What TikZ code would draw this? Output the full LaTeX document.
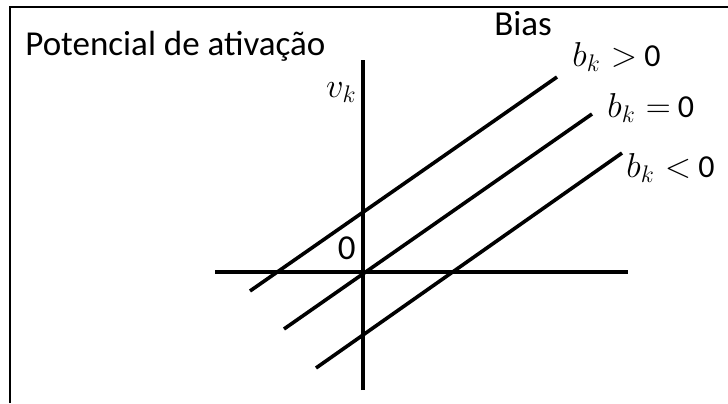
\documentclass[tikz,border=0pt]{standalone}
\usepackage{fontspec}
\setmainfont{Carlito}
\begin{document}
\begin{tikzpicture}[x=0.5pt,y=-0.5pt,font=\fontsize{17.5}{21}\selectfont,
  eixo/.style={line width=2pt},
  reta/.style={line width=1.8pt},
  rotulo/.style={font=\fontsize{16}{19}\selectfont,anchor=base west,inner sep=0pt}]
\useasboundingbox (0,0) rectangle (728,403);
\draw[line width=1pt] (10,403) -- (10,7) -- (728,7);
% eixos
\coordinate (O) at (363,272);
\coordinate (ybaixo) at (363,390);
\coordinate (ytopo) at (363,60);
\coordinate (xesq) at (215,272);
\coordinate (xdir) at (628,272);
\draw[eixo] (ybaixo) -- (ytopo);
\draw[eixo] (xesq) -- (xdir);
% retas para cada bias
\coordinate (pos1) at (250,291);
\coordinate (pos2) at (557,77);
\coordinate (nul1) at (284,329);
\coordinate (nul2) at (592,114);
\coordinate (neg1) at (316,368);
\coordinate (neg2) at (622,153);
\draw[reta] (pos1) -- (pos2);
\draw[reta] (nul1) -- (nul2);
\draw[reta] (neg1) -- (neg2);
% textos
\node[anchor=base west,inner sep=0pt] (titulo) at (25,55) {Potencial de ativação};
\node[anchor=base west,inner sep=0pt] (bias) at (494,35) {Bias};
\node[anchor=base east,inner sep=0pt,font=\fontsize{17.28}{21}\selectfont] (vk) at (357,97) {$v_k$};
\node[anchor=base east,inner sep=0pt] (zero) at (356,259) {0};
\node[rotulo] (bpos) at (572,66) {{\fontsize{17.28}{21}\selectfont$b_k$}\hspace{5pt}$>$ 0};
\node[rotulo] (bnul) at (607,117) {{\fontsize{17.28}{21}\selectfont$b_k$}\hspace{5pt}$=$ 0};
\node[rotulo] (bneg) at (626,177) {{\fontsize{17.28}{21}\selectfont$b_k$}\hspace{5pt}$<$ 0};
\end{tikzpicture}
\end{document}
